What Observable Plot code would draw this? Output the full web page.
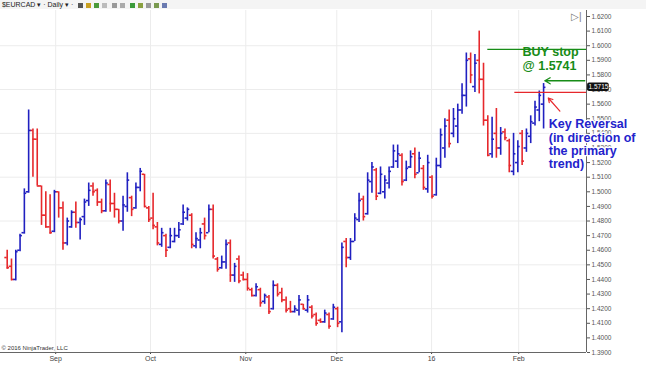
<!DOCTYPE html>
<html>
<head>
<meta charset="utf-8">
<script src="https://cdn.jsdelivr.net/npm/d3@7"></script>
<script src="https://cdn.jsdelivr.net/npm/@observablehq/plot@0.6"></script>
<style>
  body { margin: 0; background: #fff; font-family: "Liberation Sans", Arial, sans-serif; }
  #wrap { position: relative; width: 646px; height: 365px; overflow: hidden; }
  #toolbar { position: absolute; left: 0; top: 0; width: 646px; height: 9px; background: #f4f4f4; font-size: 7px; line-height: 9px; color: #222; white-space: nowrap; }
  #toolbar .ic { display: inline-block; width: 5px; height: 5px; margin-left: 3px; vertical-align: middle; }
  #endicon { position: absolute; left: 571px; top: 11px; font-size: 10px; color: #777; }
</style>
</head>
<body>
<div id="wrap">
  <div id="chart"></div>
  <div id="toolbar">&nbsp;$EURCAD ▾ · Daily ▾ · <span class="ic" style="background:#555"></span><span class="ic" style="background:#c9a020"></span><span class="ic" style="background:#4a9a3a"></span><span class="ic" style="background:#bbb"></span> <span class="ic" style="background:#999"></span><span class="ic" style="background:#aaa"></span> <span class="ic" style="background:#3a9a3a"></span><span class="ic" style="background:#8aa040"></span><span class="ic" style="background:#999"></span><span class="ic" style="background:#7a9a50"></span><span class="ic" style="background:#6a7ab0"></span></div>
  <div id="endicon">▷|</div>
</div>
<script>
// ---- data (daily EUR/CAD, bar index 0 = mid-Aug 2015) ----
const opens = [
1.455,1.449,1.440,1.460,1.472,1.500,1.542,1.536,1.504,1.484,
1.476,1.473,1.500,1.489,1.465,1.476,1.486,1.479,1.483,1.494,
1.504,1.501,1.493,1.487,1.505,1.492,1.488,1.480,1.490,1.496,
1.489,1.503,1.512,1.489,1.482,1.476,1.464,1.470,1.462,1.466,
1.470,1.478,1.482,1.484,1.463,1.467,1.478,1.472,1.488,1.454,
1.448,1.452,1.465,1.443,1.454,1.443,1.440,1.433,1.429,1.433,
1.425,1.428,1.420,1.436,1.431,1.426,1.420,1.418,1.419,1.423,
1.419,1.421,1.416,1.412,1.411,1.416,1.413,1.420,1.411,1.466,
1.455,1.466,1.481,1.495,1.485,1.507,1.515,1.499,1.500,1.506,
1.517,1.521,1.525,1.508,1.517,1.526,1.513,1.516,1.502,1.510,
1.498,1.518,1.530,1.549,1.540,1.545,1.556,1.566,1.591,1.572,
1.590,1.577,1.549,1.526,1.540,1.530,1.541,1.535,1.514,1.520,
1.540,1.530,1.538,1.547,1.556,1.560];
const highs = [
1.460,1.454,1.460,1.471,1.502,1.556,1.543,1.543,1.504,1.500,
1.498,1.501,1.500,1.493,1.482,1.487,1.493,1.482,1.495,1.506,
1.506,1.502,1.495,1.508,1.508,1.499,1.488,1.497,1.513,1.497,
1.506,1.516,1.512,1.490,1.499,1.479,1.475,1.471,1.475,1.475,
1.479,1.491,1.489,1.485,1.472,1.475,1.482,1.491,1.491,1.455,
1.456,1.467,1.467,1.451,1.456,1.445,1.444,1.434,1.437,1.434,
1.430,1.429,1.439,1.437,1.434,1.428,1.425,1.422,1.429,1.423,
1.429,1.422,1.417,1.413,1.419,1.417,1.423,1.421,1.465,1.468,
1.468,1.485,1.499,1.497,1.513,1.520,1.516,1.517,1.511,1.517,
1.532,1.532,1.526,1.521,1.528,1.530,1.527,1.518,1.525,1.511,
1.523,1.543,1.550,1.556,1.557,1.560,1.574,1.595,1.595,1.594,
1.610,1.588,1.552,1.551,1.557,1.544,1.543,1.536,1.540,1.535,
1.542,1.543,1.552,1.562,1.569,1.5741];
const lows = [
1.447,1.439,1.439,1.459,1.471,1.499,1.510,1.504,1.477,1.475,
1.471,1.472,1.482,1.460,1.463,1.475,1.475,1.467,1.477,1.490,
1.497,1.490,1.485,1.486,1.486,1.482,1.478,1.473,1.486,1.483,
1.488,1.500,1.489,1.479,1.474,1.463,1.462,1.455,1.461,1.465,
1.468,1.477,1.480,1.461,1.461,1.461,1.467,1.472,1.454,1.445,
1.447,1.447,1.438,1.438,1.437,1.439,1.432,1.428,1.428,1.421,
1.423,1.416,1.419,1.428,1.424,1.417,1.417,1.417,1.415,1.419,
1.417,1.413,1.408,1.410,1.410,1.406,1.412,1.407,1.4035,1.448,
1.453,1.466,1.479,1.480,1.484,1.499,1.494,1.498,1.495,1.502,
1.516,1.516,1.504,1.507,1.516,1.509,1.513,1.501,1.499,1.495,
1.497,1.516,1.523,1.530,1.537,1.533,1.553,1.558,1.574,1.568,
1.567,1.545,1.524,1.523,1.523,1.525,1.535,1.513,1.511,1.513,
1.518,1.527,1.533,1.545,1.548,1.543];
const closes = [
1.448,1.440,1.459,1.470,1.499,1.542,1.536,1.504,1.484,1.476,
1.472,1.500,1.489,1.465,1.480,1.486,1.479,1.481,1.493,1.501,
1.500,1.493,1.487,1.506,1.492,1.488,1.480,1.491,1.508,1.488,
1.503,1.514,1.490,1.481,1.477,1.465,1.472,1.460,1.470,1.470,
1.474,1.486,1.488,1.464,1.468,1.472,1.470,1.488,1.456,1.447,
1.452,1.464,1.443,1.449,1.439,1.440,1.434,1.429,1.435,1.424,
1.429,1.418,1.436,1.430,1.426,1.419,1.418,1.420,1.426,1.420,
1.426,1.415,1.410,1.411,1.417,1.408,1.421,1.410,1.462,1.455,
1.466,1.482,1.494,1.483,1.508,1.517,1.497,1.512,1.508,1.514,
1.528,1.526,1.507,1.516,1.524,1.512,1.523,1.503,1.520,1.497,
1.518,1.539,1.545,1.533,1.550,1.556,1.566,1.590,1.580,1.588,
1.577,1.549,1.525,1.536,1.530,1.540,1.537,1.518,1.526,1.531,
1.521,1.540,1.548,1.558,1.566,1.5715];

const monthTickBars = [11.3, 33.4, 55.6, 76.8, 98.9, 119.2];
const monthTickLabels = ["Sep", "Oct", "Nov", "Dec", "16", "Feb"];
const gridPrices = [1.42, 1.45, 1.48, 1.51, 1.54, 1.57, 1.60];
const priceTicks = d3.range(139, 163).map(v => v / 100);

const buyStopLine = 1.5975;   // green horizontal line
const buyStopArrow = 1.5760;  // green arrow level
const keyLine = 1.5680;       // red horizontal line
const lastPrice = 1.5715;

const UP = "#2020c0", DOWN = "#e6282c", GREEN = "#178c17";
const xMin = -1.56, xMax = 135.0;

const bars = opens.map((o, i) => ({
  i, o, h: highs[i], l: lows[i], c: closes[i],
  col: closes[i] >= o ? UP : DOWN
}));

const font = "'Liberation Sans', Arial, sans-serif";

const chart = Plot.plot({
  width: 646,
  height: 365,
  marginTop: 10,
  marginBottom: 13,
  marginLeft: 0,
  marginRight: 60,
  style: { fontFamily: font, background: "transparent", overflow: "visible" },
  x: { domain: [xMin, xMax], axis: null },
  y: { domain: [1.39, 1.6241], axis: null },
  marks: [
    Plot.ruleY(gridPrices, { stroke: "#ececec", strokeWidth: 1 }),
    Plot.ruleX(monthTickBars, { stroke: "#ececec", strokeWidth: 1 }),
    // OHLC bars
    Plot.ruleX(bars, { x: "i", y1: "l", y2: "h", stroke: "col", strokeWidth: 1.6 }),
    Plot.ruleY(bars, { y: "o", x1: d => d.i - 0.55, x2: "i", stroke: "col", strokeWidth: 1.6 }),
    Plot.ruleY(bars, { y: "c", x1: "i", x2: d => d.i + 0.55, stroke: "col", strokeWidth: 1.6 }),
    // axes
    Plot.axisY({ anchor: "right", ticks: priceTicks, tickFormat: d3.format(".4f"),
      tickSize: 3, tickPadding: 2, fontSize: 6.5, color: "#555", label: null }),
    Plot.axisX({ anchor: "bottom", ticks: monthTickBars,
      tickFormat: (d, k) => monthTickLabels[k], tickSize: 2, tickPadding: 1.5,
      fontSize: 7, color: "#444", label: null }),
    Plot.ruleX([xMax], { stroke: "#666", strokeWidth: 1 }),
    Plot.ruleY([1.39], { x1: xMin, x2: xMax, stroke: "#666", strokeWidth: 1 }),
    // annotations
    Plot.ruleY([buyStopLine], { x1: 112, x2: xMax, stroke: GREEN, strokeWidth: 1.3 }),
    Plot.ruleY([keyLine], { x1: 118.3, x2: xMax, stroke: DOWN, strokeWidth: 1.3 }),
    Plot.arrow([buyStopArrow], { x1: 134.6, x2: 125.3, y1: d => d, y2: d => d,
      stroke: GREEN, strokeWidth: 1.3, headLength: 7, bend: 0 }),
    Plot.arrow([0], { x1: 128.8, y1: 1.5552, x2: 126.1, y2: 1.5642,
      stroke: DOWN, strokeWidth: 1.2, headLength: 6, bend: 0 }),
    Plot.text(["BUY stop\n@ 1.5741"], { x: 120.1, y: 1.5995, textAnchor: "start",
      lineAnchor: "top", lineHeight: 1.1, fontSize: 12.5, fontWeight: "bold", fill: GREEN }),
    Plot.text(["Key Reversal\n(in direction of\nthe primary\ntrend)"], { x: 126.2, y: 1.5500,
      textAnchor: "start", lineAnchor: "top", lineHeight: 1.07, fontSize: 12.5,
      fontWeight: "bold", fill: "#2323cc", stroke: "white", strokeWidth: 2.5 }),
    // last price marker
    Plot.rect([lastPrice], { x1: xMax + 0.25, x2: xMax + 5.3, y1: d => d - 0.0029, y2: d => d + 0.0029,
      fill: "#111", rx: 2 }),
    Plot.text([lastPrice], { x: xMax + 2.78, y: d => d, text: d => d.toFixed(4),
      fill: "white", fontSize: 6.5 }),
    Plot.text(["© 2016 NinjaTrader, LLC"], { frameAnchor: "bottom-left", dx: 1, dy: -3,
      textAnchor: "start", fontSize: 6, fill: "#333" })
  ]
});
document.getElementById("chart").appendChild(chart);
</script>
</body>
</html>
